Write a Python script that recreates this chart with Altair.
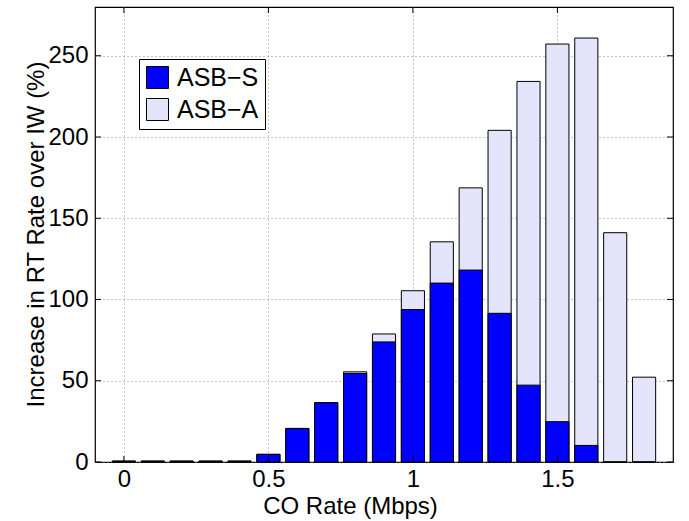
import altair as alt
import pandas as pd

# CO rate (Mbps) for each bar group
co_rate = [0.0, 0.1, 0.2, 0.3, 0.4, 0.5, 0.6, 0.7, 0.8, 0.9,
           1.0, 1.1, 1.2, 1.3, 1.4, 1.5, 1.6, 1.7, 1.8]
# Increase in RT rate over IW (%)
asb_s = [0.5, 0.5, 0.5, 0.5, 0.5, 4.6, 20.5, 36.4, 54.5, 73.9,
         93.8, 110.1, 118.1, 91.5, 47.3, 24.8, 10.2, 0.0, 0.0]
asb_a = [0.6, 0.6, 0.6, 0.6, 0.6, 4.8, 20.7, 36.6, 55.5, 78.8,
         105.4, 135.5, 168.7, 204.1, 234.2, 257.2, 260.9, 141.1, 52.2]

series_names = ["ASB\u2212S", "ASB\u2212A"]
series_colors = ["#0000FF", "#E4E4FA"]

y_ticks = [0, 50, 100, 150, 200, 250]
x_ticks = [0, 0.5, 1, 1.5]

FONT = "Liberation Sans"
W, H = 578, 455
FS = 24

rows = []
for r, s, a in zip(co_rate, asb_s, asb_a):
    rows.append({"rate": r, "series": series_names[0], "value": s})
    rows.append({"rate": r, "series": series_names[1], "value": a})
df = pd.DataFrame(rows)

x_scale = alt.Scale(domain=[-0.1, 1.9], nice=False, zero=False)
y_scale = alt.Scale(domain=[0, 280], nice=False)
color_scale = alt.Scale(domain=series_names, range=series_colors)

x_axis = alt.Axis(values=x_ticks, format="~g", grid=True, gridDash=[1, 3],
                  gridColor="#888888", domain=False, ticks=False,
                  labelFont=FONT, labelFontSize=FS, labelColor="black",
                  labelPadding=5, title="CO Rate (Mbps)", titleFont=FONT,
                  titleFontSize=FS, titleFontWeight="normal", titleColor="black",
                  titleX=255, titleY=51, titleBaseline="alphabetic",
                  titleAlign="center", titleAnchor="start")
y_axis = alt.Axis(values=y_ticks, grid=True, gridDash=[1, 3],
                  gridColor="#888888", domain=False, ticks=False,
                  labelFont=FONT, labelFontSize=FS, labelColor="black",
                  labelPadding=7, title="Increase in RT Rate over IW (%)",
                  titleFont=FONT, titleFontSize=FS, titleFontWeight="normal",
                  titleColor="black", titleX=-52, titleY=227, titleAngle=270,
                  titleBaseline="alphabetic", titleAlign="center",
                  titleAnchor="start")

base = alt.Chart(df).transform_calculate(
    x0="datum.rate - 0.04", x1="datum.rate + 0.04", zero="0"
)

legend = alt.Legend(title=None, orient="none", legendX=44, legendY=52,
                    direction="vertical", strokeColor="black",
                    fillColor="white", padding=6, symbolType="square",
                    symbolSize=484, symbolStrokeColor="black",
                    symbolStrokeWidth=1, symbolOpacity=1, labelFont=FONT,
                    labelFontSize=25, labelColor="black", labelOffset=7,
                    rowPadding=5, labelLimit=300)

def bars(name):
    return base.transform_filter(alt.datum.series == name).mark_rect(
        stroke="black", strokeWidth=1
    ).encode(
        x=alt.X("x0:Q", scale=x_scale, axis=x_axis),
        x2="x1:Q",
        y=alt.Y("value:Q", scale=y_scale, axis=y_axis),
        y2="zero:Q",
        color=alt.Color("series:N", scale=color_scale, legend=legend),
    )

bars_a = bars(series_names[1])
bars_s = bars(series_names[0])

# inward tick marks on all four sides (MATLAB style)
ytick_df = pd.DataFrame({"v": y_ticks})
xtick_df = pd.DataFrame({"v": x_ticks})

yt_left = alt.Chart(ytick_df).mark_rule(color="black", strokeWidth=1).encode(
    y=alt.Y("v:Q", scale=y_scale), x=alt.value(0), x2=alt.value(6))
yt_right = alt.Chart(ytick_df).mark_rule(color="black", strokeWidth=1).encode(
    y=alt.Y("v:Q", scale=y_scale), x=alt.value(W - 6), x2=alt.value(W))
xt_bottom = alt.Chart(xtick_df).mark_rule(color="black", strokeWidth=1).encode(
    x=alt.X("v:Q", scale=x_scale), y=alt.value(H - 6), y2=alt.value(H))
xt_top = alt.Chart(xtick_df).mark_rule(color="black", strokeWidth=1).encode(
    x=alt.X("v:Q", scale=x_scale), y=alt.value(0), y2=alt.value(6))

chart = alt.layer(bars_a, bars_s, yt_left, yt_right, xt_bottom, xt_top).properties(
    width=W, height=H,
    autosize=alt.AutoSizeParams(type="none"),
    padding={"left": 95, "top": 7, "right": 16, "bottom": 59},
    background="white",
).configure_view(stroke="black", strokeWidth=1.2)

chart.save("out.html", embed_options={"renderer": "svg", "actions": False})
